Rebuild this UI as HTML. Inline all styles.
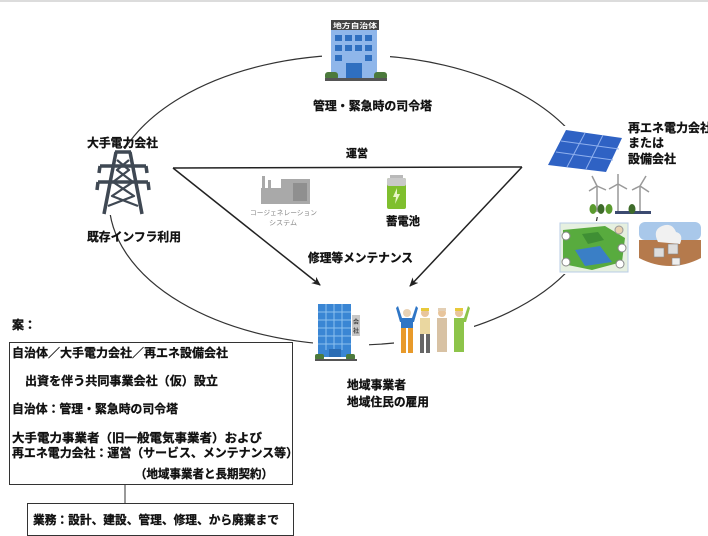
<!DOCTYPE html>
<html><head><meta charset="utf-8">
<style>
html,body{margin:0;padding:0;background:#fff;}
svg{display:block;}
text{font-family:"Liberation Sans","Noto Sans CJK JP",sans-serif;font-weight:bold;fill:#111;}
.b{stroke:#111;stroke-width:0.3;}
</style></head>
<body>
<svg width="708" height="536" viewBox="0 0 708 536" xmlns="http://www.w3.org/2000/svg">
<defs>
<marker id="ah" markerWidth="10" markerHeight="10" refX="8" refY="5" orient="auto" markerUnits="userSpaceOnUse">
<path d="M0,1 L9,5 L0,9 L2.5,5 Z" fill="#222"/>
</marker>
<clipPath id="bx"><rect x="0" y="330" width="292" height="160"/></clipPath>
</defs>
<rect x="0" y="0" width="708" height="536" fill="#fff"/>
<rect x="0" y="0" width="708" height="2" fill="#dcdcdc"/>

<!-- ellipse -->
<ellipse cx="354" cy="200" rx="245" ry="145" fill="none" stroke="#333" stroke-width="1.2"/>

<!-- triangle -->
<line x1="173" y1="168" x2="522" y2="167" stroke="#222" stroke-width="1.5"/>
<line x1="173" y1="168" x2="320" y2="285" stroke="#222" stroke-width="1.5" marker-end="url(#ah)"/>
<line x1="522" y1="167" x2="410" y2="286" stroke="#222" stroke-width="1.5" marker-end="url(#ah)"/>

<!-- city hall -->
<rect x="322" y="12" width="68" height="74" fill="#fff"/>
<rect x="331" y="20" width="48" height="10" fill="#444"/>
<text x="333" y="28" font-size="7" style="fill:#fff" textLength="44" lengthAdjust="spacingAndGlyphs">地方自治体</text>
<rect x="331" y="30" width="46" height="48" fill="#8fb6ea"/>
<g fill="#2f6fc0">
<rect x="335" y="35" width="7" height="6"/><rect x="345" y="35" width="7" height="6"/><rect x="355" y="35" width="7" height="6"/><rect x="365" y="35" width="7" height="6"/>
<rect x="335" y="45" width="7" height="6"/><rect x="345" y="45" width="7" height="6"/><rect x="355" y="45" width="7" height="6"/><rect x="365" y="45" width="7" height="6"/>
<rect x="335" y="55" width="7" height="6"/><rect x="365" y="55" width="7" height="6"/>
<rect x="346" y="63" width="16" height="15"/>
</g>
<rect x="325" y="72" width="13" height="8" rx="3" fill="#4c7a3c"/>
<rect x="374" y="72" width="13" height="8" rx="3" fill="#4c7a3c"/>
<rect x="325" y="78" width="62" height="3" fill="#555"/>

<!-- tower -->
<rect x="96" y="149" width="54" height="66" fill="#fff"/>
<g stroke="#3f4853" stroke-width="3.5" fill="none" stroke-linejoin="round">
<path d="M116,152 L104,214 M130,152 L142,214"/>
<path d="M115,152 L131,152"/>
<path d="M100,166 L146,166 M98,182 L148,182"/>
<path d="M100,166 L99,173 M146,166 L147,173 M98,182 L97,190 M148,182 L149,190"/>
<path d="M117,160 L129,170 L113,182 L134,196 L108,206 M129,160 L117,170 L133,182 L112,196 L138,206" stroke-width="2.2"/>
</g>

<!-- solar -->
<rect x="546" y="126" width="78" height="48" fill="#fff"/>
<polygon points="566,130 622,138 606,172 548,165" fill="#2f62c4"/>
<g stroke="#8fb0ee" stroke-width="1">
<line x1="585" y1="133" x2="567" y2="167"/><line x1="603" y1="135" x2="586" y2="169"/>
<line x1="561" y1="141" x2="619" y2="149"/><line x1="556" y1="152" x2="613" y2="160"/>
</g>

<!-- wind turbines -->
<rect x="585" y="174" width="68" height="43" fill="#fff"/>
<g stroke="#999" stroke-width="1.5">
<line x1="597" y1="186" x2="597" y2="212"/><line x1="618" y1="184" x2="618" y2="212"/><line x1="640" y1="186" x2="640" y2="212"/>
<path d="M597,186 L592,176 M597,186 L606,190 M597,186 L589,191"/>
<path d="M618,184 L618,174 M618,184 L627,189 M618,184 L609,189"/>
<path d="M640,186 L646,176 M640,186 L649,192 M640,186 L632,190"/>
</g>
<rect x="615" y="211" width="36" height="3" fill="#3b4a70"/>
<g fill="#5a9a2e"><ellipse cx="593" cy="209" rx="3.5" ry="5"/><ellipse cx="601" cy="209" rx="3.5" ry="5" fill="#3e6b2a"/><ellipse cx="609" cy="209" rx="3.5" ry="5"/><ellipse cx="632" cy="209" rx="3.5" ry="5" fill="#3e6b2a"/></g>

<!-- map -->
<rect x="557" y="221" width="74" height="53" fill="#fff"/>
<rect x="560" y="223" width="68" height="49" fill="#e6f0e0" stroke="#b8cde6"/>
<path d="M563,230 L605,226 L625,238 L622,262 L592,270 L563,264 Z" fill="#58ab3e"/>
<path d="M575,250 L600,246 L612,262 L585,266 Z" fill="#3a7fc6"/>
<path d="M582,234 L598,232 L604,240 L588,244 Z" fill="#3f8f34"/>
<circle cx="566" cy="236" r="4" fill="#fff" stroke="#888"/>
<circle cx="622" cy="248" r="4" fill="#fff" stroke="#888"/>
<circle cx="566" cy="262" r="4" fill="#fff" stroke="#888"/>
<circle cx="620" cy="264" r="4" fill="#fff" stroke="#888"/>
<circle cx="619" cy="230" r="4" fill="#e8d2b0" stroke="#999"/>

<!-- geothermal -->
<rect x="636" y="219" width="70" height="54" fill="#fff"/>
<rect x="639" y="222" width="62" height="18" rx="6" fill="#a9c8ea"/>
<path d="M639,240 L701,240 L701,258 Q670,274 639,258 Z" fill="#b57a4c"/>
<path d="M658,242 Q652,230 662,226 Q672,222 676,232 Q684,234 680,244 Z" fill="#f1f1f1"/>
<rect x="654" y="248" width="10" height="9" fill="#ddd" stroke="#888" stroke-width="0.6"/>
<rect x="668" y="244" width="10" height="10" fill="#ddd" stroke="#888" stroke-width="0.6"/>
<rect x="672" y="258" width="8" height="7" fill="#eee" stroke="#888" stroke-width="0.6"/>

<!-- cogeneration -->
<g fill="#a9a9a9">
<rect x="262" y="176" width="3" height="12"/>
<rect x="268" y="180" width="3" height="8"/>
<rect x="261" y="188" width="20" height="16"/>
<rect x="281" y="179" width="29" height="25"/>
</g>
<rect x="293" y="183" width="14" height="18" fill="#8f8f8f"/>
<text x="250" y="215" font-size="7" style="fill:#8a8a8a;font-weight:normal" textLength="67" lengthAdjust="spacingAndGlyphs">コージェネレーション</text>
<text x="269" y="225" font-size="7" style="fill:#8a8a8a;font-weight:normal" textLength="28" lengthAdjust="spacingAndGlyphs">システム</text>

<!-- battery -->
<rect x="390" y="175" width="13" height="4" fill="#b9b9b9"/>
<rect x="387" y="178" width="19" height="31" rx="2" fill="#7fbf2e"/>
<rect x="387" y="178" width="19" height="8" rx="2" fill="#c9c9c9"/>
<path d="M397,188 L393,197 L396,197 L395,204 L400,194 L397,194 Z" fill="#e8f5c8"/>

<!-- office building -->
<rect x="313" y="298" width="56" height="66" fill="#fff"/>
<rect x="318" y="304" width="33" height="53" fill="#3a86d4"/>
<g stroke="#8cc0ee" stroke-width="1">
<line x1="318" y1="312" x2="351" y2="312"/><line x1="318" y1="320" x2="351" y2="320"/><line x1="318" y1="328" x2="351" y2="328"/><line x1="318" y1="336" x2="351" y2="336"/><line x1="318" y1="344" x2="351" y2="344"/>
<line x1="326" y1="304" x2="326" y2="350"/><line x1="334" y1="304" x2="334" y2="350"/><line x1="342" y1="304" x2="342" y2="350"/>
</g>
<rect x="329" y="349" width="12" height="8" fill="#2a6cb4"/>
<rect x="352" y="315" width="8" height="21" fill="#c8c8c8"/>
<text x="353" y="324" font-size="6" style="fill:#444">会</text>
<text x="353" y="333" font-size="6" style="fill:#444">社</text>
<rect x="315" y="354" width="9" height="6" rx="2" fill="#4c7a3c"/>
<rect x="346" y="354" width="9" height="6" rx="2" fill="#4c7a3c"/>
<rect x="315" y="359" width="42" height="2" fill="#555"/>

<!-- workers -->
<rect x="394" y="300" width="80" height="60" fill="#fff"/>
<circle cx="407" cy="313" r="4" fill="#e8d2b5"/>
<path d="M398,306 L402,318 L412,318 L416,306 L418,308 L414,322 L400,322 L396,308 Z" fill="#2f76c6"/>
<rect x="401" y="322" width="12" height="6" fill="#2f76c6"/>
<rect x="401" y="328" width="5" height="25" fill="#e89a2a"/><rect x="408" y="328" width="5" height="25" fill="#e89a2a"/>
<circle cx="425" cy="313" r="4" fill="#e8c59c"/><rect x="421" y="308" width="8" height="3" fill="#e8c93a"/>
<rect x="420" y="318" width="10" height="16" fill="#ead7a0"/>
<rect x="420" y="334" width="4" height="19" fill="#666"/><rect x="426" y="334" width="4" height="19" fill="#666"/>
<circle cx="442" cy="313" r="4" fill="#e8c59c"/><rect x="438" y="308" width="8" height="3" fill="#e3cfb4"/>
<rect x="437" y="318" width="10" height="34" fill="#d8c2a4"/>
<circle cx="459" cy="313" r="4" fill="#e8c59c"/><rect x="455" y="308" width="8" height="3" fill="#e8c93a"/>
<path d="M454,318 L464,318 L468,306 L470,308 L466,322 L464,322 L464,352 L454,352 Z" fill="#8dc44a"/>

<!-- labels -->
<g class="b">
<text x="313" y="110" font-size="12" textLength="119" lengthAdjust="spacingAndGlyphs">管理・緊急時の司令塔</text>
<text x="87" y="147" font-size="12" textLength="71" lengthAdjust="spacingAndGlyphs">大手電力会社</text>
<text x="87" y="241" font-size="12" textLength="94" lengthAdjust="spacingAndGlyphs">既存インフラ利用</text>
<text x="346" y="157" font-size="11" textLength="22" lengthAdjust="spacingAndGlyphs">運営</text>
<text x="628" y="132" font-size="12">再エネ電力会社</text>
<text x="628" y="147" font-size="12">または</text>
<text x="628" y="163" font-size="12">設備会社</text>
<text x="386" y="225" font-size="11.5" textLength="34" lengthAdjust="spacingAndGlyphs">蓄電池</text>
<text x="308" y="262" font-size="12" textLength="105" lengthAdjust="spacingAndGlyphs">修理等メンテナンス</text>
<text x="347" y="389" font-size="12" textLength="59" lengthAdjust="spacingAndGlyphs">地域事業者</text>
<text x="347" y="406" font-size="12" textLength="82" lengthAdjust="spacingAndGlyphs">地域住民の雇用</text>
<text x="12" y="329" font-size="12">案：</text>
</g>

<!-- box 1 -->
<rect x="9.5" y="342.5" width="283" height="142" fill="none" stroke="#333" stroke-width="1"/>
<g clip-path="url(#bx)" class="b">
<text x="12" y="357" font-size="12" textLength="216" lengthAdjust="spacingAndGlyphs">自治体／大手電力会社／再エネ設備会社</text>
<text x="25" y="385" font-size="12" textLength="193" lengthAdjust="spacingAndGlyphs">出資を伴う共同事業会社（仮）設立</text>
<text x="12" y="413" font-size="12" textLength="166" lengthAdjust="spacingAndGlyphs">自治体：管理・緊急時の司令塔</text>
<text x="12" y="442" font-size="12" textLength="250" lengthAdjust="spacingAndGlyphs">大手電力事業者（旧一般電気事業者）および</text>
<text x="12" y="457" font-size="12" textLength="286" lengthAdjust="spacingAndGlyphs">再エネ電力会社：運営（サービス、メンテナンス等）</text>
<text x="135" y="478" font-size="12" textLength="138" lengthAdjust="spacingAndGlyphs">（地域事業者と長期契約）</text>
</g>
<line x1="125" y1="485" x2="125" y2="503" stroke="#333" stroke-width="1"/>
<rect x="27.5" y="503.5" width="266" height="32" fill="none" stroke="#333" stroke-width="1"/>
<text class="b" x="33" y="524" font-size="12" textLength="246" lengthAdjust="spacingAndGlyphs">業務：設計、建設、管理、修理、から廃棄まで</text>
</svg>
</body></html>
